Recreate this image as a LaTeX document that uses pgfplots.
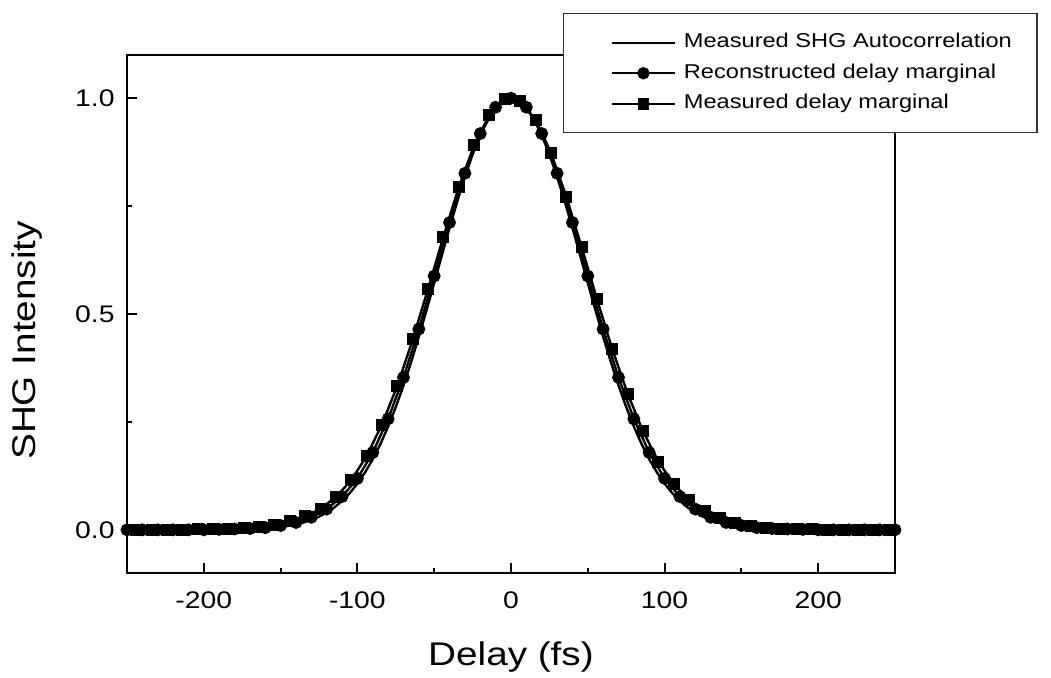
\documentclass[border=0pt]{standalone}
\usepackage{pgfplots}
\pgfplotsset{compat=1.18}
\usepackage{fontspec}
\setmainfont{Liberation Sans}[FakeStretch=1.18]

\begin{document}
\begin{tikzpicture}
\begin{axis}[
  at={(0,0)}, anchor=south west,
  scale only axis, width=384pt, height=259pt,
  xmin=-250, xmax=250, ymin=-0.1, ymax=1.1,
  axis line style={line width=1pt},
  xtick={-200,-100,0,100,200},
  xticklabels={-200,-100,0,100,200},
  ytick={0,0.5,1},
  yticklabels={0.0,0.5,1.0},
  minor x tick num=1, minor y tick num=1,
  tick align=inside,
  xtick pos=bottom, ytick pos=left,
  major tick length=5pt, minor tick length=2.5pt,
  every tick/.style={line width=1pt, black},
  xticklabel style={font=\fontsize{12}{14}\selectfont, inner sep=0pt, anchor=base, yshift=-17.5pt},
  yticklabel style={font=\fontsize{12}{14}\selectfont, inner sep=0pt, anchor=east, xshift=-6pt},
  xlabel={Delay (fs)},
  ylabel={SHG Intensity},
  xlabel style={font=\fontsize{16.4}{18}\selectfont, at={(axis description cs:0.5,0)}, anchor=base, yshift=-46pt},
  ylabel style={font=\fontsize{16.4}{18}\selectfont, at={(axis description cs:-0.1302,0.449)}, anchor=center},
  legend style={at={(0.5677,1.0811)}, anchor=north west, draw=black!80, line width=0.75pt, fill=white,
    font=\fontsize{10}{12}\selectfont, inner xsep=11.5pt, inner ysep=8.7pt, row sep=3.65pt, column sep=3pt,
    nodes={inner sep=1pt, text height=7.4pt, text depth=2.2pt}},
  legend cell align=left,
  legend image code/.code={
    \path (-12pt,0pt) (0pt,0pt);
    \draw[line width=1pt, mark repeat=2, mark phase=2] plot coordinates {(0pt,0pt) (15.75pt,0pt) (31.5pt,0pt)};
  },
]
% Measured SHG Autocorrelation
\addplot[black, line width=1.2pt, no marks] coordinates {
(-250,0)(-245,0)(-240,0)(-235,0)(-230,0)(-225,0)(-220,0)(-215,0)(-210,0)(-205,0)
(-200,0)(-195,0)(-190,0)(-185,0)(-180,0.0007)(-175,0.001)(-170,0.0016)(-165,0.0023)(-160,0.0033)(-155,0.0047)
(-150,0.0065)(-145,0.0091)(-140,0.0125)(-135,0.0170)(-130,0.0229)(-125,0.0304)(-120,0.0400)(-115,0.0520)(-110,0.0669)(-105,0.0851)
(-100,0.1070)(-95,0.1331)(-90,0.1636)(-85,0.1989)(-80,0.2392)(-75,0.2845)(-70,0.3345)(-65,0.3890)(-60,0.4473)(-55,0.5087)
(-50,0.5719)(-45,0.6360)(-40,0.6994)(-35,0.7605)(-30,0.8178)(-25,0.8696)(-20,0.9145)(-15,0.9510)(-10,0.9779)(-5,0.9944)
(0,1.0)
(5,0.9944)(10,0.9779)(15,0.9510)(20,0.9145)(25,0.8696)(30,0.8178)(35,0.7605)(40,0.6994)(45,0.6360)(50,0.5719)
(55,0.5087)(60,0.4473)(65,0.3890)(70,0.3345)(75,0.2845)(80,0.2392)(85,0.1989)(90,0.1636)(95,0.1331)(100,0.1070)
(105,0.0851)(110,0.0669)(115,0.0520)(120,0.0400)(125,0.0304)(130,0.0229)(135,0.0170)(140,0.0125)(145,0.0091)(150,0.0065)
(155,0.0047)(160,0.0033)(165,0.0023)(170,0.0016)(175,0.001)(180,0.0007)(185,0)(190,0)(195,0)(200,0)
(205,0)(210,0)(215,0)(220,0)(225,0)(230,0)(235,0)(240,0)(245,0)(250,0)
};
\addlegendentry{Measured SHG Autocorrelation}
% Reconstructed delay marginal
\addplot[black, line width=1.2pt, mark=*, mark size=2.6pt, mark options={solid, fill=black}] coordinates {
(-250,0)(-240,0)(-230,0)(-220,0)(-210,0)(-200,0)(-190,0.001)(-180,0.002)(-170,0.003)(-160,0.005)
(-150,0.010)(-140,0.017)(-130,0.029)(-120,0.048)(-110,0.077)(-100,0.119)(-90,0.179)(-80,0.257)(-70,0.353)(-60,0.465)
(-50,0.588)(-40,0.712)(-30,0.826)(-20,0.918)(-10,0.979)(0,1.000)(10,0.979)(20,0.918)(30,0.826)(40,0.712)
(50,0.588)(60,0.465)(70,0.353)(80,0.257)(90,0.179)(100,0.119)(110,0.077)(120,0.048)(130,0.029)(140,0.017)
(150,0.010)(160,0.005)(170,0.003)(180,0.002)(190,0.001)(200,0)(210,0)(220,0)(230,0)(240,0)(250,0)
};
\addlegendentry{Reconstructed delay marginal}
% Measured delay marginal
\addplot[black, line width=1.2pt, mark=square*, mark size=2.4pt, mark options={solid, fill=black}] coordinates {
(-244,0)(-234,0)(-224,0)(-214,0)(-204,0.001)(-194,0.001)(-184,0.002)(-174,0.004)(-164,0.007)(-154,0.012)
(-144,0.020)(-134,0.031)(-124,0.049)(-114,0.076)(-104,0.115)(-94,0.171)(-84,0.244)(-74,0.334)(-64,0.441)(-54,0.558)
(-44,0.679)(-34,0.794)(-24,0.891)(-14,0.962)(-4,0.997)(6,0.993)(16,0.950)(26,0.874)(36,0.772)(46,0.655)
(56,0.534)(66,0.418)(76,0.315)(86,0.228)(96,0.158)(106,0.106)(116,0.069)(126,0.044)(136,0.027)(146,0.016)
(156,0.009)(166,0.005)(176,0.003)(186,0.002)(196,0.001)(206,0)(216,0)(226,0)(236,0)(246,0)
};
\addlegendentry{Measured delay marginal}
\end{axis}
\pgfresetboundingbox
\useasboundingbox (-63.5pt,-52pt) rectangle (462pt,286.5pt);
\end{tikzpicture}
\end{document}
